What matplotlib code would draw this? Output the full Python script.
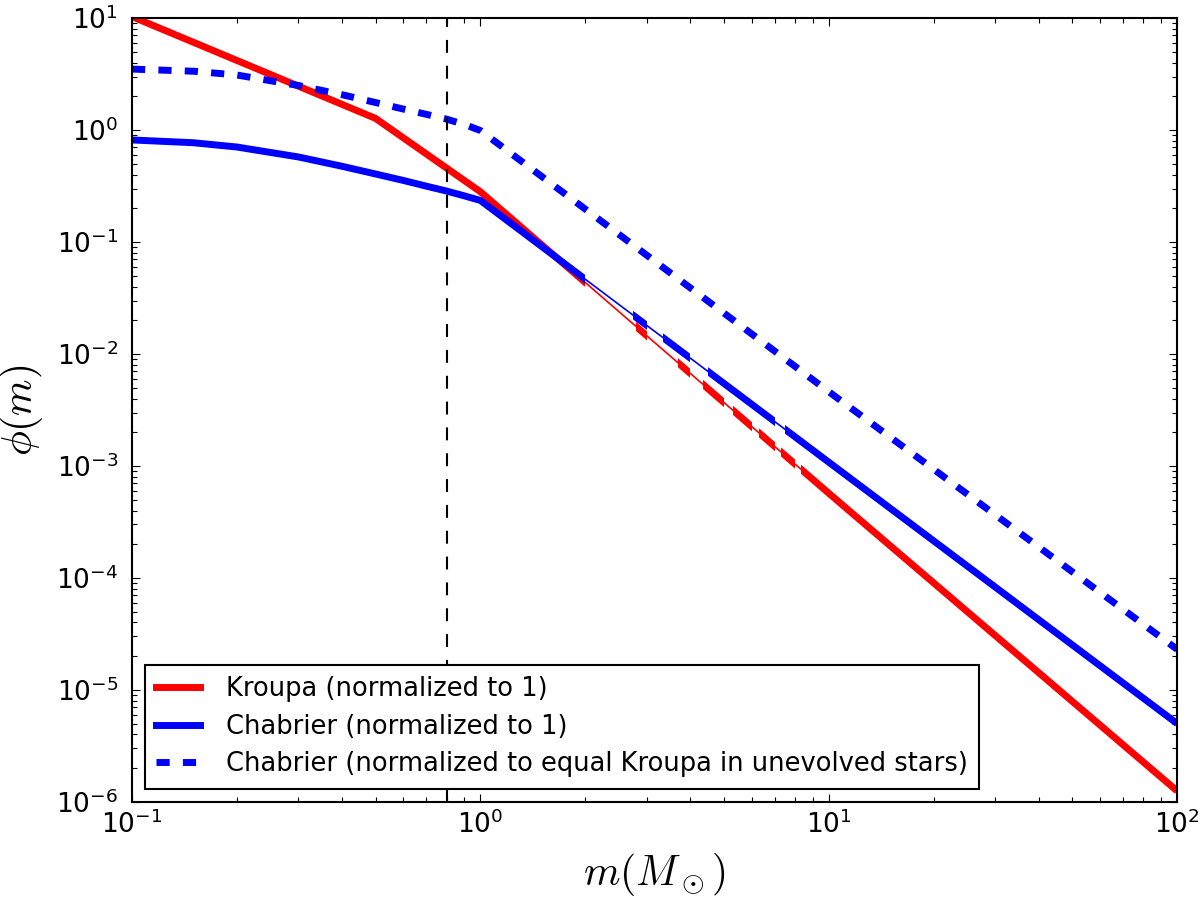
import matplotlib
matplotlib.use("Agg")
import matplotlib.pyplot as plt
from matplotlib.path import Path
from matplotlib.lines import Line2D
from matplotlib.transforms import blended_transform_factory

# values
kroupa_m = [0.1, 0.5, 1.0, 10.0, 100.0]
kroupa_phi = [10.3, 1.27, 0.281, 5.7e-4, 1.25e-6]

chab_m = [0.1, 0.15, 0.2, 0.3, 0.4, 0.5, 0.6, 0.7, 0.8, 0.9, 1.0, 10.0, 100.0]
chab_phi = [0.815, 0.77, 0.705, 0.575, 0.475, 0.405, 0.355, 0.315, 0.285,
            0.258, 0.235, 1.08e-3, 5.0e-6]
chab_scaled_phi = [3.5, 3.35, 3.1, 2.5, 2.07, 1.76, 1.54, 1.38, 1.25,
                   1.12, 0.99, 4.6e-3, 2.3e-5]

m_cut = 0.8

labels = ["Kroupa (normalized to 1)",
          "Chabrier (normalized to 1)",
          "Chabrier (normalized to equal Kroupa in unevolved stars)"]

# mass ranges where the thick curves show up (between them only a thin line)
kroupa_thick = [(0.09, 2.0), (2.8, 3.0), (3.7, 4.0), (4.35, 5.0),
                (5.3, 6.0), (6.3, 7.0), (7.3, 8.0), (8.3, 110.0)]
chab_thick = [(0.09, 2.0), (2.75, 3.0), (3.35, 4.0), (4.5, 7.0), (7.5, 110.0)]

plt.rcParams["mathtext.fontset"] = "cm"
plt.rcParams["axes.unicode_minus"] = False
plt.rcParams["axes.linewidth"] = 1.5


def band_path(ranges):
    verts, codes = [], []
    for x0, x1 in ranges:
        verts += [(x0, -1), (x1, -1), (x1, 2), (x0, 2), (x0, -1)]
        codes += [Path.MOVETO, Path.LINETO, Path.LINETO, Path.LINETO, Path.CLOSEPOLY]
    return Path(verts, codes)


fig = plt.figure(figsize=(12, 9.02), dpi=100)
ax = fig.add_axes([0.11, 0.111, 0.871, 0.869])
ax.set_xscale("log")
ax.set_yscale("log")
blend = blended_transform_factory(ax.transData, ax.transAxes)

lw = 5
# Kroupa
ax.plot(kroupa_m, kroupa_phi, color="red", lw=1.2)
ln, = ax.plot(kroupa_m, kroupa_phi, color="red", lw=lw, solid_capstyle="butt")
ln.set_clip_path(band_path(kroupa_thick), blend)

# Chabrier
ax.plot(chab_m, chab_phi, color="blue", lw=1.2)
ln, = ax.plot(chab_m, chab_phi, color="blue", lw=lw, solid_capstyle="butt")
ln.set_clip_path(band_path(chab_thick), blend)

# Chabrier rescaled
ax.plot(chab_m, chab_scaled_phi, color="blue", lw=lw, dashes=(1.9, 1.9),
        dash_capstyle="butt")

ax.axvline(m_cut, color="black", lw=1.5, dashes=(6.2, 6.2))

ax.set_xlim(0.1, 100)
ax.set_ylim(1e-6, 10)

ax.tick_params(which="both", direction="in", top=True, right=True,
               labelsize=19, width=0.8)
ax.tick_params(which="major", length=6)
ax.tick_params(which="minor", length=3.5)
ax.tick_params(axis="x", pad=6)
ax.tick_params(axis="y", pad=10)

ax.set_xlabel(r"$m(M_\odot)$", fontsize=30, labelpad=9)
ax.set_ylabel(r"$\phi(m)$", fontsize=30, labelpad=8)

handles = [Line2D([], [], color="red", lw=lw),
           Line2D([], [], color="blue", lw=lw),
           Line2D([], [], color="blue", lw=lw, dashes=(1.9, 1.9))]
leg = ax.legend(handles, labels, loc="lower left", fontsize=18.5,
                fancybox=False, framealpha=1, edgecolor="black",
                borderpad=0.45, labelspacing=0.45, handlelength=1.7,
                handletextpad=1.0, borderaxespad=0.5)
leg.get_frame().set_linewidth(1.5)

fig.savefig("out.png", dpi=100)
